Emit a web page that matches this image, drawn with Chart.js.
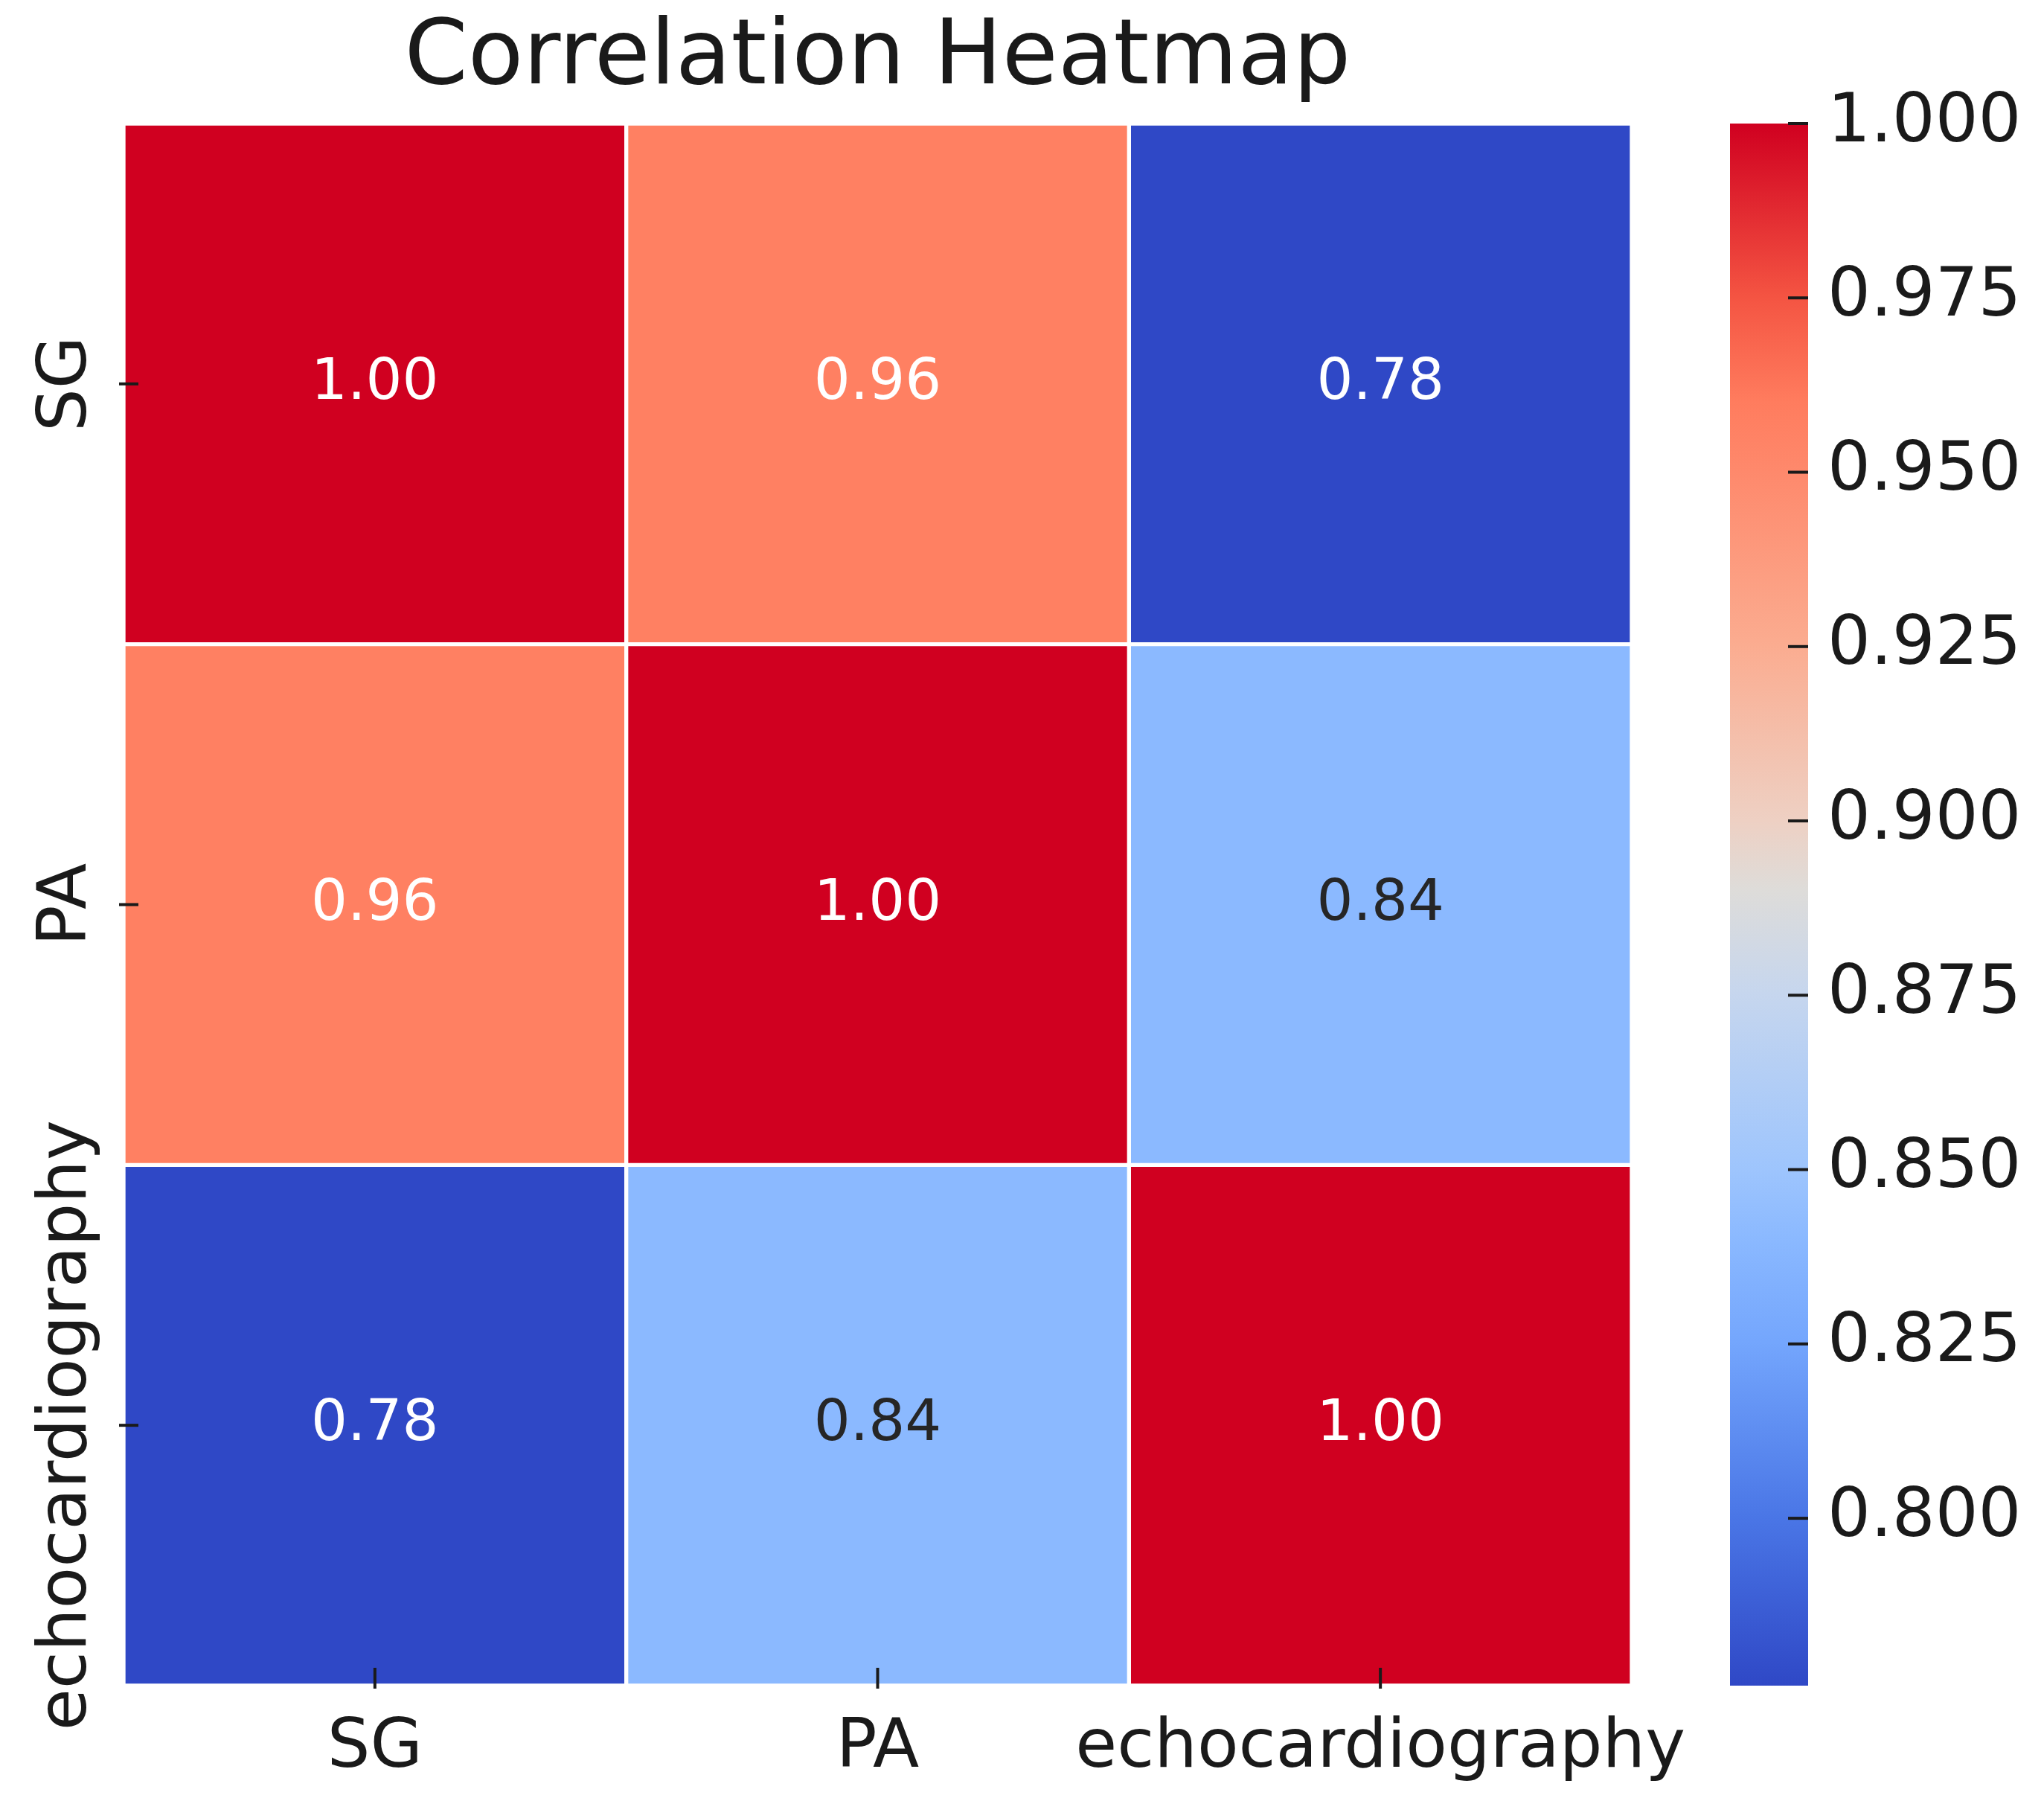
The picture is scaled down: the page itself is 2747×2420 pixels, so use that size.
<!DOCTYPE html>
<html>
<head>
<meta charset="utf-8">
<script src="https://cdn.jsdelivr.net/npm/chart.js@4.4.1/dist/chart.umd.min.js"></script>
<style>
  html, body { margin: 0; padding: 0; background: #fff; }
  #wrap { position: relative; width: 2747px; height: 2420px; }
  canvas { position: absolute; left: 0; top: 0; }
</style>
</head>
<body>
<div id="wrap">
  <canvas id="heatmap" width="2747" height="2420"></canvas>
  <canvas id="colorbar" width="2747" height="2420"></canvas>
</div>
<script>
// data
const variables = ["SG", "PA", "echocardiography"];
const rowSG   = [1.00, 0.957, 0.776];
const rowPA   = [0.957, 1.00, 0.84];
const rowEcho = [0.776, 0.84, 1.00];
const colorbarTicks = [0.800, 0.825, 0.850, 0.875, 0.900, 0.925, 0.950, 0.975, 1.000];

const matrix = [rowSG, rowPA, rowEcho];
const cbMin = Math.min(...matrix.flat());
const cbMax = Math.max(...matrix.flat());

// colour map (position 0..1 -> rgb), sampled from the colour bar
const cmapStops = [
  [0.000, [47, 72, 198]],
  [0.108, [74, 118, 230]],
  [0.220, [116, 166, 253]],
  [0.287, [139, 185, 255]],
  [0.331, [158, 197, 253]],
  [0.443, [198, 214, 238]],
  [0.510, [222, 220, 217]],
  [0.554, [238, 208, 195]],
  [0.666, [251, 172, 144]],
  [0.777, [254, 137, 108]],
  [0.822, [255, 124, 94]],
  [0.889, [244, 84, 66]],
  [1.000, [208, 0, 32]]
];

const FONT = "'DejaVu Sans', sans-serif";
const INK = "#1a1a1a";
Chart.defaults.font.family = FONT;
Chart.defaults.color = INK;

function rgb(c) { return `rgb(${c[0]}, ${c[1]}, ${c[2]})`; }

function cmapRGB(v) {
  const t = Math.max(0, Math.min(1, (v - cbMin) / (cbMax - cbMin)));
  for (let k = 1; k < cmapStops.length; k++) {
    const [t1, c1] = cmapStops[k];
    const [t0, c0] = cmapStops[k - 1];
    if (t <= t1) {
      const f = (t - t0) / (t1 - t0);
      return c0.map((a, i) => Math.round(a + (c1[i] - a) * f));
    }
  }
  return cmapStops[cmapStops.length - 1][1];
}

// same rule seaborn uses to pick annotation colour
function textColorFor(v) {
  const lin = cmapRGB(v).map(c => {
    c = c / 255;
    return c <= 0.03928 ? c / 12.92 : Math.pow((c + 0.055) / 1.055, 2.4);
  });
  const lum = 0.2126 * lin[0] + 0.7152 * lin[1] + 0.0722 * lin[2];
  return lum > 0.408 ? "#262626" : "#ffffff";
}

function tickLine(ctx, x1, y1, x2, y2) {
  ctx.beginPath();
  ctx.moveTo(x1, y1);
  ctx.lineTo(x2, y2);
  ctx.stroke();
}

// annotations, inward ticks and rotated row labels
const heatmapDecor = {
  id: "heatmapDecor",
  afterDatasetsDraw(chart) {
    const { ctx, chartArea, scales: { x, y } } = chart;
    ctx.save();

    ctx.font = `77px ${FONT}`;
    ctx.textAlign = "center";
    ctx.textBaseline = "middle";
    chart.data.datasets.forEach((ds, i) => {
      chart.getDatasetMeta(i).data.forEach((bar, j) => {
        const v = ds.values[j];
        ctx.fillStyle = textColorFor(v);
        ctx.fillText(v.toFixed(2), bar.x, (bar.y + bar.base) / 2);
      });
    });

    ctx.strokeStyle = INK;
    ctx.lineWidth = 4;
    x.ticks.forEach((t, k) => {
      const px = x.getPixelForTick(k);
      tickLine(ctx, px, chartArea.bottom + 4, px, chartArea.bottom - 24);
    });

    ctx.fillStyle = INK;
    ctx.font = `91px ${FONT}`;
    ctx.textBaseline = "alphabetic";
    y.ticks.forEach((t, k) => {
      const py = y.getPixelForValue(t.value);
      tickLine(ctx, chartArea.left - 6, py, chartArea.left + 20, py);
      ctx.save();
      ctx.translate(y.right - 51, py);
      ctx.rotate(-Math.PI / 2);
      ctx.fillText(variables[k], 0, 0);
      ctx.restore();
    });
    ctx.restore();
  }
};

new Chart(document.getElementById("heatmap"), {
  type: "bar",
  data: {
    labels: variables,
    datasets: matrix.map((row, i) => ({
      label: variables[i],
      data: row.map(() => [i, i + 1]),
      values: row,
      backgroundColor: row.map(v => rgb(cmapRGB(v))),
      borderColor: "#ffffff",
      borderWidth: 3,
      borderSkipped: false,
      barPercentage: 1,
      categoryPercentage: 1,
      grouped: false
    }))
  },
  options: {
    responsive: false,
    animation: false,
    devicePixelRatio: 1,
    layout: { padding: { left: 0, right: 554, top: 0, bottom: 0 } },
    plugins: {
      legend: { display: false },
      tooltip: { enabled: false },
      title: {
        display: true,
        text: "Correlation Heatmap",
        fullSize: false,
        color: INK,
        font: { size: 122, weight: "normal", lineHeight: 1 },
        padding: { top: 19, bottom: 25 }
      }
    },
    scales: {
      x: {
        grid: { display: false, drawTicks: false },
        border: { display: false },
        ticks: { font: { size: 91 }, color: INK, padding: 31, autoSkip: false, maxRotation: 0 },
        afterFit: s => { s.height = 155; }
      },
      y: {
        min: 0,
        max: variables.length,
        reverse: true,
        grid: { display: false, drawTicks: false },
        border: { display: false },
        ticks: { display: false },
        afterBuildTicks: s => { s.ticks = variables.map((v, i) => ({ value: i + 0.5 })); },
        afterFit: s => { s.width = 166; }
      }
    }
  },
  plugins: [heatmapDecor]
});

const colorbarTickMarks = {
  id: "colorbarTickMarks",
  afterDatasetsDraw(chart) {
    const { ctx, chartArea, scales: { y } } = chart;
    ctx.save();
    ctx.strokeStyle = INK;
    ctx.lineWidth = 4;
    y.ticks.forEach(t => {
      const py = y.getPixelForValue(t.value);
      tickLine(ctx, chartArea.right - 27, py, chartArea.right, py);
    });
    ctx.restore();
  }
};

new Chart(document.getElementById("colorbar"), {
  type: "bar",
  data: {
    labels: [""],
    datasets: [{
      data: [[cbMin, cbMax]],
      backgroundColor: (context) => {
        const { ctx, chartArea } = context.chart;
        if (!chartArea) return "transparent";
        const g = ctx.createLinearGradient(0, chartArea.bottom, 0, chartArea.top);
        cmapStops.forEach(([t, c]) => g.addColorStop(t, rgb(c)));
        return g;
      },
      borderWidth: 0,
      barPercentage: 1,
      categoryPercentage: 1
    }]
  },
  options: {
    responsive: false,
    animation: false,
    devicePixelRatio: 1,
    layout: { padding: { left: 2325, right: 0, top: 166, bottom: 155 } },
    plugins: { legend: { display: false }, tooltip: { enabled: false } },
    scales: {
      x: { display: false },
      y: {
        position: "right",
        min: cbMin,
        max: cbMax,
        grid: { display: false, drawTicks: false },
        border: { display: false },
        afterBuildTicks: s => { s.ticks = colorbarTicks.map(v => ({ value: v })); },
        ticks: { font: { size: 91 }, color: INK, padding: 26, callback: v => v.toFixed(3) },
        afterFit: s => { s.width = 317; }
      }
    }
  },
  plugins: [colorbarTickMarks]
});
</script>
</body>
</html>
